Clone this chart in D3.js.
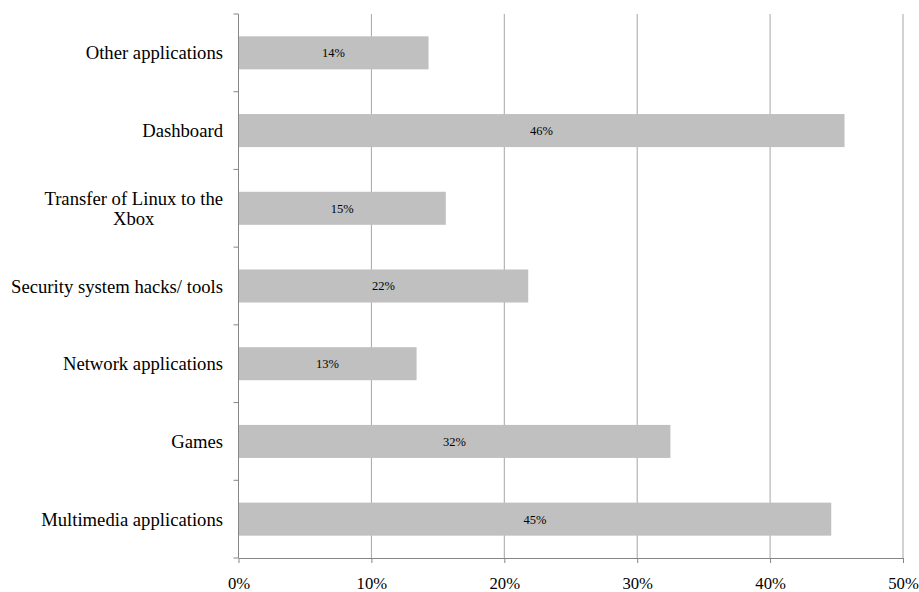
<!DOCTYPE html>
<html>
<head>
<meta charset="utf-8">
<script src="https://cdn.jsdelivr.net/npm/d3@7"></script>
<style>
  body { margin: 0; background: #fff; }
  text { font-family: "Liberation Serif", "Times New Roman", serif; fill: #000; }
</style>
</head>
<body>
<svg id="chart"></svg>
<script>
const width = 919;
const height = 592;

// data (top to bottom as drawn)
const categories = [
  "Other applications",
  "Dashboard",
  "Transfer of Linux to the Xbox",
  "Security system hacks/ tools",
  "Network applications",
  "Games",
  "Multimedia applications"
];
const values = [14.3, 45.6, 15.6, 21.8, 13.4, 32.5, 44.6];
const valueLabels = ["14%", "46%", "15%", "22%", "13%", "32%", "45%"];
const xTicks = [0, 10, 20, 30, 40, 50];

const margin = { top: 14, right: 16, bottom: 34, left: 238.5 };

const svg = d3.select("#chart")
  .attr("width", width)
  .attr("height", height);

const x = d3.scaleLinear()
  .domain([0, 50])
  .range([margin.left, width - margin.right]);

const y = d3.scaleBand()
  .domain(categories)
  .range([margin.top, height - margin.bottom])
  .paddingInner(0.575)
  .paddingOuter(0.2875);

const plotTop = margin.top;
const plotBottom = height - margin.bottom;

// gridlines
svg.append("g")
  .selectAll("line")
  .data(xTicks.slice(1))
  .join("line")
  .attr("x1", d => x(d))
  .attr("x2", d => x(d))
  .attr("y1", plotTop)
  .attr("y2", plotBottom)
  .attr("stroke", "#a6a6a6")
  .attr("stroke-width", 1);

// bars
svg.append("g")
  .selectAll("rect")
  .data(categories)
  .join("rect")
  .attr("x", x(0))
  .attr("y", d => y(d))
  .attr("width", (d, i) => x(values[i]) - x(0))
  .attr("height", y.bandwidth())
  .attr("fill", "#c0c0c0");

// value labels
svg.append("g")
  .selectAll("text")
  .data(categories)
  .join("text")
  .attr("x", (d, i) => (x(0) + x(values[i])) / 2)
  .attr("y", d => y(d) + y.bandwidth() / 2)
  .attr("dy", "0.35em")
  .attr("text-anchor", "middle")
  .attr("font-size", 12.5)
  .text((d, i) => valueLabels[i]);

// y axis line + ticks at band boundaries
const step = y.step();
const bounds = d3.range(categories.length + 1).map(i => plotTop + i * step);
const axisColor = "#868686";

svg.append("line")
  .attr("x1", x(0)).attr("x2", x(0))
  .attr("y1", plotTop).attr("y2", plotBottom)
  .attr("stroke", axisColor);

svg.append("g")
  .selectAll("line")
  .data(bounds)
  .join("line")
  .attr("x1", x(0) - 5).attr("x2", x(0))
  .attr("y1", d => d).attr("y2", d => d)
  .attr("stroke", axisColor);

// x axis
const xAxis = svg.append("g")
  .attr("transform", `translate(0,${plotBottom})`)
  .call(d3.axisBottom(x)
    .tickValues(xTicks)
    .tickFormat(d => d + "%")
    .tickSize(5)
    .tickSizeOuter(0)
    .tickPadding(14));

xAxis.select(".domain").attr("stroke", axisColor);
xAxis.selectAll(".tick line").attr("stroke", axisColor);
xAxis.selectAll(".tick text")
  .attr("font-size", 16.7)
  .attr("fill", "#000");

// category labels (wrapped where the source wraps)
const wrapped = {
  "Transfer of Linux to the Xbox": ["Transfer of Linux to the", "Xbox"]
};
const labelX = 223;
const labelSize = 18.67;

categories.forEach(c => {
  const lines = wrapped[c] || [c];
  const cy = y(c) + y.bandwidth() / 2;
  const lh = 20;
  if (lines.length === 1) {
    svg.append("text")
      .attr("x", labelX)
      .attr("y", cy)
      .attr("dy", "0.35em")
      .attr("text-anchor", "end")
      .attr("font-size", labelSize)
      .text(c);
  } else {
    // lines are centred on each other, block sits against the right edge
    const t = svg.append("text")
      .attr("font-size", labelSize)
      .attr("text-anchor", "middle");
    const tmp = t.append("tspan").text(lines[0]);
    const w = tmp.node().getComputedTextLength();
    tmp.remove();
    const cx = labelX - w / 2;
    lines.forEach((ln, i) => {
      t.append("tspan")
        .attr("x", cx)
        .attr("y", cy + (i - (lines.length - 1) / 2) * lh)
        .attr("dy", "0.35em")
        .text(ln);
    });
  }
});
</script>
</body>
</html>
